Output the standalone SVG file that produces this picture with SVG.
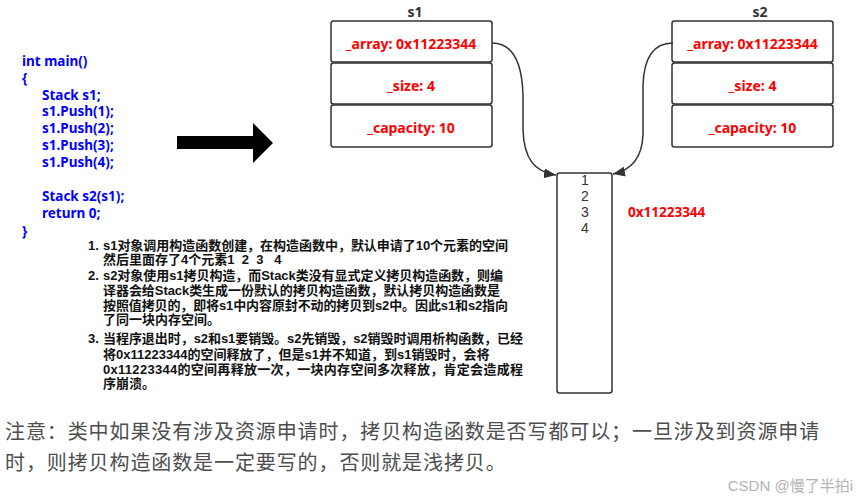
<svg xmlns="http://www.w3.org/2000/svg" width="856" height="501" viewBox="0 0 856 501">
<defs>
<style>
.code{font-family:"Noto Sans","Noto Sans CJK SC",sans-serif;font-size:13.5px;font-weight:bold;fill:#0000ff;dominant-baseline:central}
.box{fill:#fff;stroke:#333;stroke-width:1.5}
.red{font-family:"Noto Sans","Noto Sans CJK SC",sans-serif;font-size:14px;font-weight:bold;fill:#ff0000;text-anchor:middle;dominant-baseline:central}
.lbl{font-family:"Noto Sans","Noto Sans CJK SC",sans-serif;font-size:14px;font-weight:bold;fill:#333;text-anchor:middle;dominant-baseline:central}
.num{font-family:"Liberation Sans",sans-serif;font-size:14px;fill:#333;text-anchor:middle;dominant-baseline:central}
.ex{font-family:"Liberation Sans","Noto Sans CJK SC",sans-serif;font-size:13px;font-weight:bold;fill:#111;dominant-baseline:central}
.note{font-family:"Noto Sans CJK SC",sans-serif;font-size:20px;fill:#4d4d4d;dominant-baseline:central}
.wm{font-family:"Liberation Sans","Noto Sans CJK SC",sans-serif;font-size:15px;fill:#b3b3b3;dominant-baseline:central}
.conn{fill:none;stroke:#333;stroke-width:1.5}
</style>
<marker id="ah" markerUnits="userSpaceOnUse" markerWidth="14" markerHeight="12" refX="12" refY="5" orient="auto">
<path d="M0,0 L12,5 L0,10 Z" fill="#333"/>
</marker>
</defs>
<rect width="856" height="501" fill="#fff"/>

<g id="code">
<text class="code" x="22" y="61">int main()</text>
<text class="code" x="22" y="78">{</text>
<text class="code" x="42" y="94.5">Stack s1;</text>
<text class="code" x="42" y="111">s1.Push(1);</text>
<text class="code" x="42" y="128">s1.Push(2);</text>
<text class="code" x="42" y="144.5">s1.Push(3);</text>
<text class="code" x="42" y="161.5">s1.Push(4);</text>
<text class="code" x="42" y="196">Stack s2(s1);</text>
<text class="code" x="42" y="213">return 0;</text>
<text class="code" x="22" y="230.5">}</text>
</g>

<g id="bigArrow">
<polygon points="177,136 253,136 253,123 273,143 253,163 253,149 177,149" fill="#000"/>
</g>

<g id="s1">
<text class="lbl" x="415" y="11">s1</text>
<rect class="box" x="331" y="21" width="161" height="41" rx="2.5"/>
<rect class="box" x="331" y="63" width="161" height="41" rx="2.5"/>
<rect class="box" x="331" y="105" width="161" height="42" rx="2.5"/>
<text class="red" x="411" y="43">_array: 0x11223344</text>
<text class="red" x="411" y="85">_size: 4</text>
<text class="red" x="411" y="127">_capacity: 10</text>
</g>

<g id="s2">
<text class="lbl" x="760" y="11">s2</text>
<rect class="box" x="672" y="21" width="161" height="41" rx="2.5"/>
<rect class="box" x="672" y="63" width="161" height="41" rx="2.5"/>
<rect class="box" x="672" y="105" width="161" height="42" rx="2.5"/>
<text class="red" x="752.5" y="43">_array: 0x11223344</text>
<text class="red" x="752.5" y="85">_size: 4</text>
<text class="red" x="752.5" y="127">_capacity: 10</text>
</g>

<g id="memory">
<rect class="box" x="557" y="173" width="55" height="220" rx="2.5"/>
<text class="num" x="585" y="180">1</text>
<text class="num" x="585" y="196">2</text>
<text class="num" x="585" y="212">3</text>
<text class="num" x="585" y="228">4</text>
</g>

<g id="addr">
<text x="628" y="212" font-family="Noto Sans, sans-serif" font-size="13.5" font-weight="bold" fill="#ff0000" dominant-baseline="central">0x11223344</text>
</g>

<g id="connectors">
<path class="conn" d="M492,43 C512,43 522,62 523,95 L523,130 C524,158 534,172 556,175" marker-end="url(#ah)"/>
<path class="conn" d="M673,43 C655,43 644,56 643,85 L643,135 C642,158 632,170 613,174" marker-end="url(#ah)"/>
</g>

<g id="explain">
<text class="ex" x="88" y="245">1.</text>
<text class="ex" x="103" y="245" textLength="405" lengthAdjust="spacing">s1对象调用构造函数创建，在构造函数中，默认申请了10个元素的空间</text>
<text class="ex" x="103" y="259.5" xml:space="preserve">然后里面存了4个元素1  2  3   4</text>
<text class="ex" x="88" y="275">2.</text>
<text class="ex" x="103" y="275" textLength="400" lengthAdjust="spacing">s2对象使用s1拷贝构造，而Stack类没有显式定义拷贝构造函数，则编</text>
<text class="ex" x="103" y="290" textLength="397" lengthAdjust="spacing">译器会给Stack类生成一份默认的拷贝构造函数，默认拷贝构造函数是</text>
<text class="ex" x="103" y="305" textLength="405" lengthAdjust="spacing">按照值拷贝的，即将s1中内容原封不动的拷贝到s2中。因此s1和s2指向</text>
<text class="ex" x="103" y="319.5">了同一块内存空间。</text>
<text class="ex" x="88" y="338.5">3.</text>
<text class="ex" x="103" y="338.5" textLength="420" lengthAdjust="spacing">当程序退出时，s2和s1要销毁。s2先销毁，s2销毁时调用析构函数，已经</text>
<text class="ex" x="103" y="354">将0x11223344的空间释放了，但是s1并不知道，到s1销毁时，会将</text>
<text class="ex" x="103" y="369.5" textLength="420" lengthAdjust="spacing">0x11223344的空间再释放一次，一块内存空间多次释放，肯定会造成程</text>
<text class="ex" x="103" y="383.5">序崩溃。</text>
</g>

<g id="note">
<text class="note" x="5" y="430" letter-spacing="0.9">注意：类中如果没有涉及资源申请时，拷贝构造函数是否写都可以；一旦涉及到资源申请</text>
<text class="note" x="5" y="461" letter-spacing="0.9">时，则拷贝构造函数是一定要写的，否则就是浅拷贝。</text>
</g>

<g id="watermark">
<text class="wm" x="853" y="485" text-anchor="end">CSDN @慢了半拍i</text>
</g>
</svg>
